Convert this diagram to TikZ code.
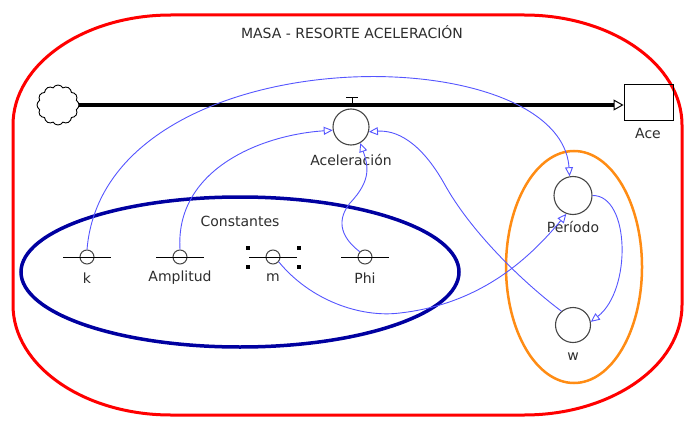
\documentclass[tikz,border=0pt]{standalone}
\usepackage{fontspec}
\setmainfont{DejaVu Sans}
\usetikzlibrary{arrows.meta,shapes.symbols,shapes.geometric}
\definecolor{lnk}{RGB}{85,85,255}
\definecolor{navyb}{RGB}{0,0,160}
\definecolor{orng}{RGB}{255,140,20}
\definecolor{txt}{RGB}{45,45,45}
\definecolor{circ}{RGB}{70,70,70}
\begin{document}
\begin{tikzpicture}[x=1pt,y=1pt,
  lbl/.style={font=\fontsize{14}{16}\selectfont, text=txt, inner sep=0pt},
  auxc/.style={circle, draw=circ, line width=1.1pt, minimum size=36pt, inner sep=0pt},
  constc/.style={circle, draw=circ, line width=1pt, minimum size=14pt, inner sep=0pt},
  link/.style={draw=lnk, line width=0.9pt, -{Triangle[open,length=9pt,width=8pt,line width=0.9pt]}},
  handle/.style={fill=black, minimum size=4pt, inner sep=0pt},
  constbar/.style={draw=black, line width=0.9pt},
]
\useasboundingbox (0,0) rectangle (684,421);
% outer red boundary
\draw[red, line width=3pt] (171,406) -- (524,406)
  arc[start angle=90, end angle=0, x radius=158, y radius=110] -- (682,116)
  arc[start angle=0, end angle=-90, x radius=158, y radius=110] -- (171,6)
  arc[start angle=-90, end angle=-180, x radius=158, y radius=110] -- (13,296)
  arc[start angle=180, end angle=90, x radius=158, y radius=110] -- cycle;
\node[lbl] (tit) at (352,389) {MASA - RESORTE ACELERACIÓN};
% group ellipses
\draw[navyb, line width=3.5pt] (240,149) ellipse [x radius=219, y radius=75];
\draw[orng, line width=2.5pt] (574,154) ellipse [x radius=68, y radius=116];
\node[lbl] (cons) at (240,200) {Constantes};
% stock and flow
\node[cloud, cloud puffs=12, cloud puff arc=120, draw=black, line width=0.9pt, minimum width=42pt, minimum height=40pt, inner sep=0pt] (src) at (58,316) {};
\node[draw=black, line width=0.9pt, minimum width=49pt, minimum height=36pt, inner sep=0pt] (ace) at (648.5,319) {};
\node[lbl] (acel) at (648,288) {Ace};
\draw[line width=3.5pt, -{Triangle[open,length=10pt,width=11pt,line width=1pt]}] (src.east) -- (src.east -| ace.west);
\coordinate (valve) at (352,316);
\draw[line width=1pt] (valve) -- ++(0,7) ++(-6,0) -- ++(12,0);
% auxiliaries
\node[auxc] (acc) at (351,294) {};
\node[lbl] (accl) at (351,261) {Aceleración};
\node[auxc, minimum size=38pt] (per) at (573,225.5) {};
\node[lbl] (perl) at (573,194) {Período};
\node[auxc, minimum size=35pt] (w) at (573,96) {};
\node[lbl] (wl) at (573,64) {w};
% constants
\foreach \nm/\xx/\tt in {k/87/k, amp/180/Amplitud, m/273/m, phi/365/Phi}{
  \node[constc] (\nm c) at (\xx,164) {};
  \draw[constbar] ([xshift=-24pt]\nm c.center) -- ([xshift=24pt]\nm c.center);
  \node[lbl] (\nm l) at (\xx,143) {\tt};
}
\node[handle] (h1) at (248,173) {};
\node[handle] (h2) at (299,173) {};
\node[handle] (h3) at (248,154) {};
\node[handle] (h4) at (299,154) {};
% links
\draw[link] (kc.north) .. controls (105,386) and (560,386) .. (per.100);
\draw[link] (ampc.north) .. controls (175,251) and (260,286) .. (acc.190);
\draw[link] (phic.north west) .. controls (338,186) and (338,203) .. (350,218) .. controls (372,241) and (368,256) .. (acc.-60);
\draw[link] (w.130) .. controls (520,141) and (470,191) .. (445,236) .. controls (420,281) and (395,291) .. (acc.-15);
\draw[link] (mc.-40) .. controls (310,121) and (360,103) .. (400,108) .. controls (470,116) and (520,151) .. (per.-110);
\draw[link] (per.east) .. controls (630,226) and (632,131) .. (w.10);
\end{tikzpicture}
\end{document}
